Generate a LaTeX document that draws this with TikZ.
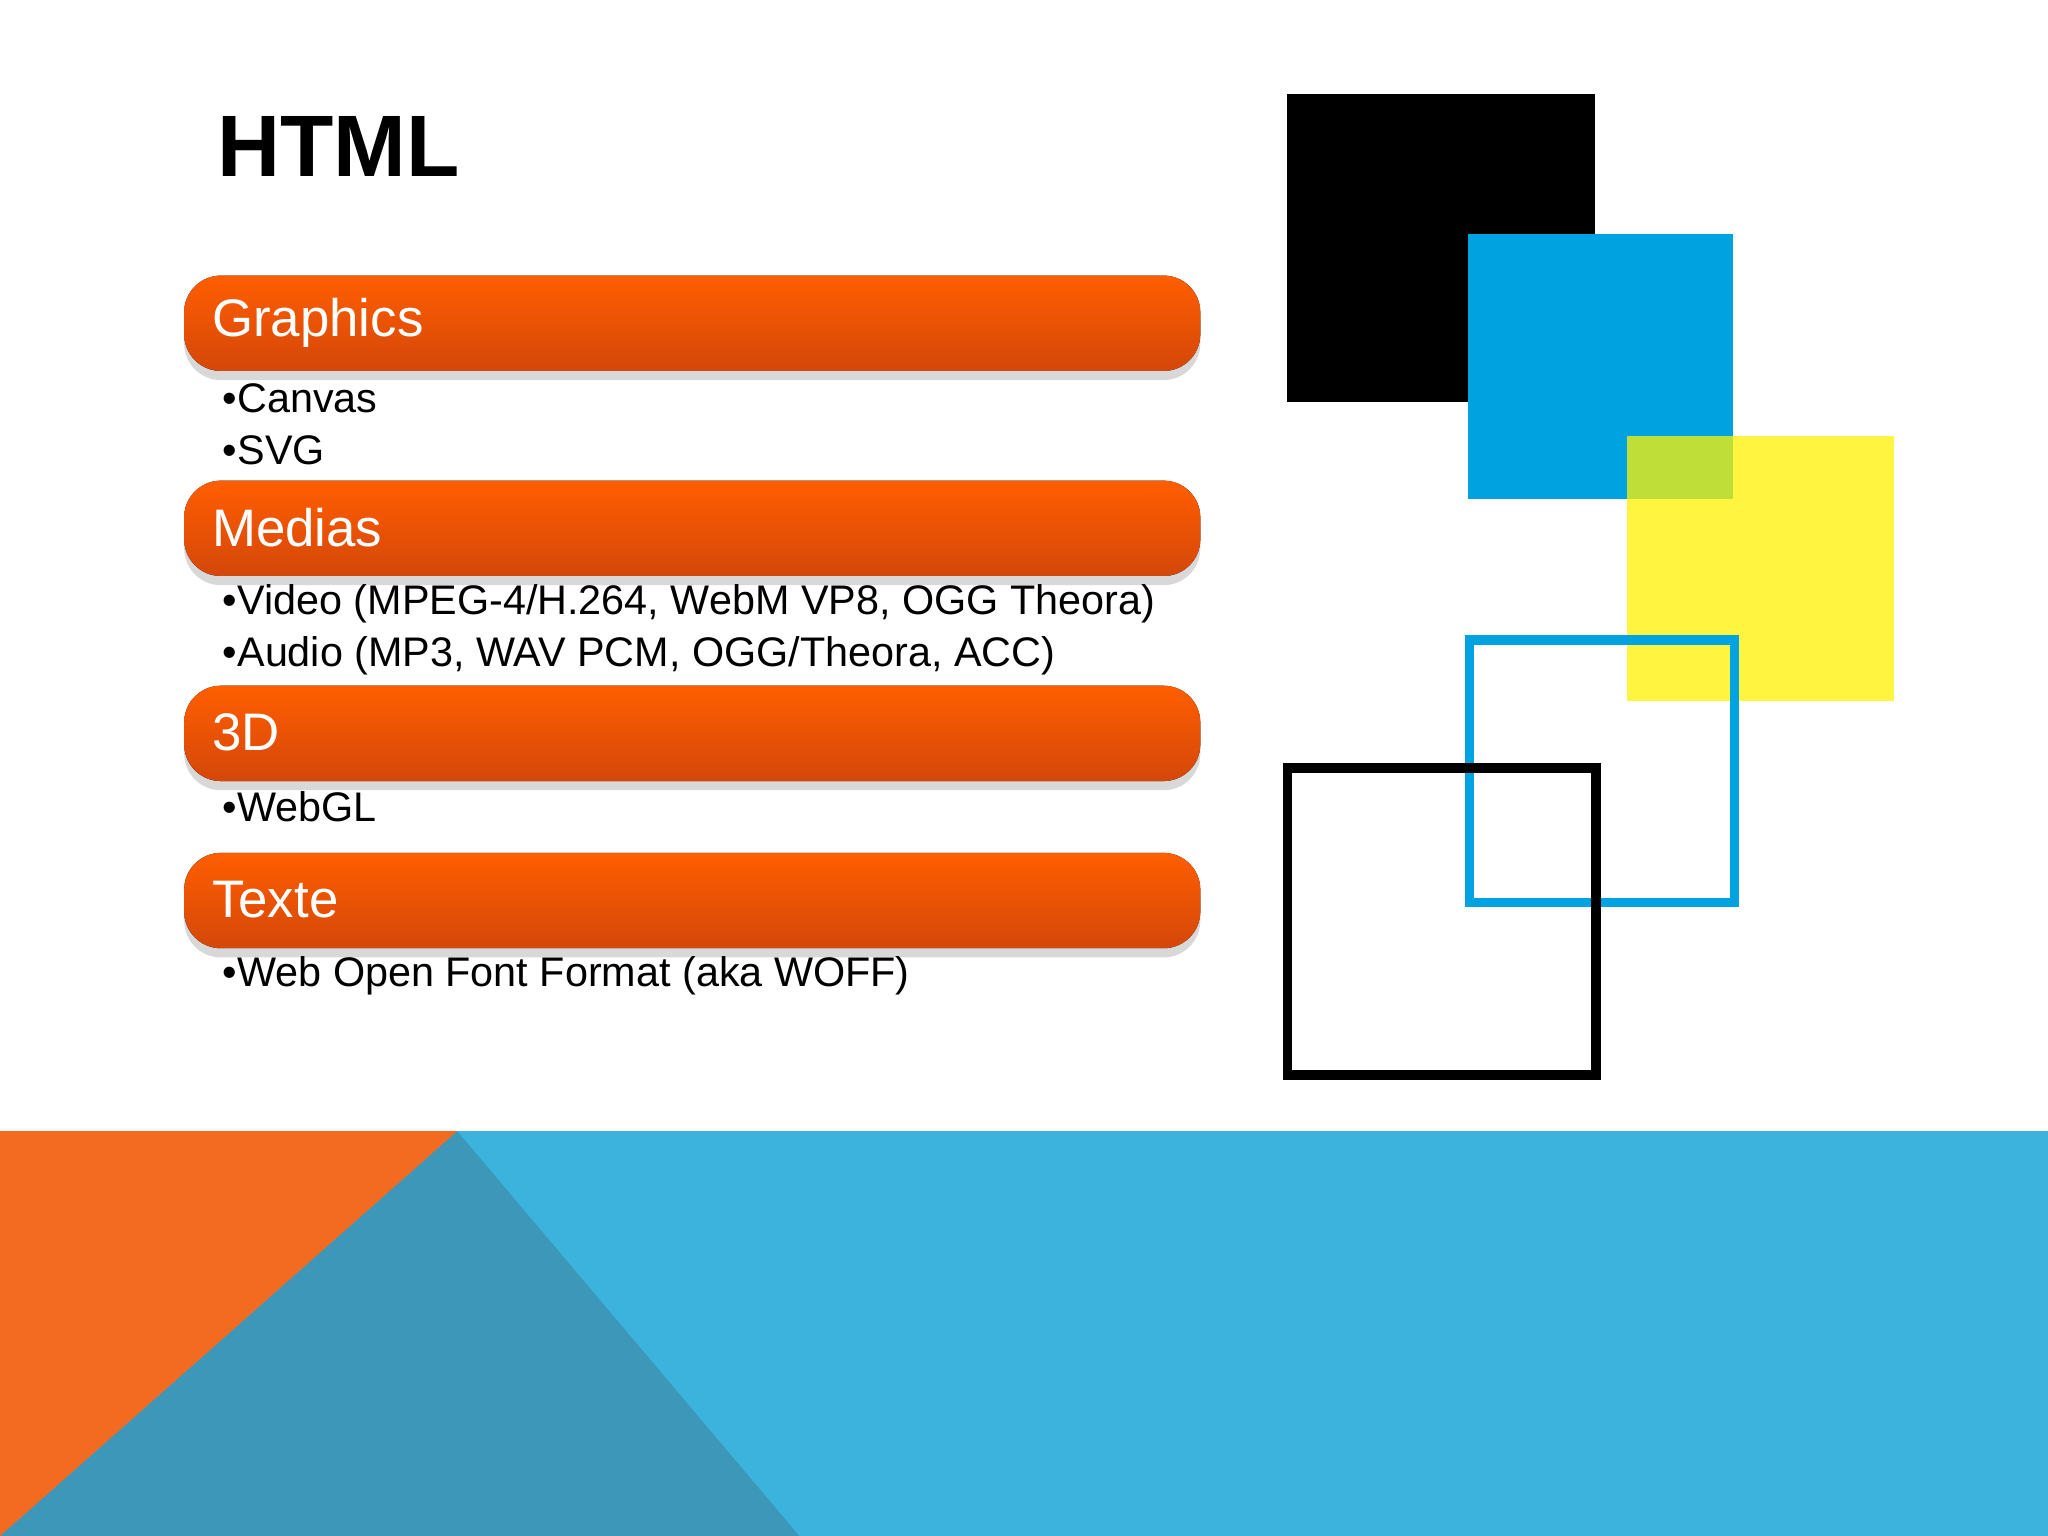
\documentclass[tikz,border=0pt]{standalone}
\usepackage{fontspec}
\setmainfont{Liberation Sans}
\usetikzlibrary{positioning,shadows}
\definecolor{barTop}{HTML}{FF5E00}
\definecolor{barBot}{HTML}{D4470A}
\definecolor{sqBlue}{HTML}{00A3E0}
\definecolor{bandBlue}{HTML}{3BB3DD}
\definecolor{bandOrange}{HTML}{F26B21}
\definecolor{bandTeal}{HTML}{3D97B8}
\tikzset{
	bar/.style={rounded corners=8pt,top color=barTop,bottom color=barBot,
		draw=none,drop shadow={opacity=0.3,shadow xshift=0pt,shadow yshift=-2pt}},
	bartext/.style={anchor=west,text=white,font=\fontsize{11.5}{13}\selectfont},
	item/.style={anchor=west,font=\fontsize{9}{11}\selectfont,inner sep=0pt}
}
\begin{document}
\begin{tikzpicture}[x=0.01cm,y=-0.01cm]
	\useasboundingbox (0,0) rectangle (1568,1176);
	\fill[white] (0,0) rectangle (1568,1176);
	% bottom band
	\fill[bandBlue] (0,866) rectangle (1568,1176);
	\fill[bandTeal] (350,866) -- (612,1176) -- (0,1176) -- cycle;
	\fill[bandOrange] (0,866) -- (350,866) -- (0,1176) -- cycle;
	% title
	\node[anchor=west,font=\fontsize{19}{22}\selectfont\bfseries] (title) at (154,112) {HTML};
	% bars
	\foreach \name/\y/\txt in {graphics/211/Graphics,medias/368/Medias,threed/525/3D,texte/653/Texte} {
		\fill[bar] (141,\y) rectangle (919,\y+73);
		\node[bartext] (\name) at (150,\y+36) {\txt};
	}
	% items
	\foreach \y/\txt in {305/Canvas,345/SVG,462/{Video (MPEG-4/H.264, WebM VP8, OGG Theora)},
		502/{Audio (MP3, WAV PCM, OGG/Theora, ACC)},618/WebGL,747/{Web Open Font Format (aka WOFF)}}
		\node[item] at (170,\y) {\textbullet\txt};
	% squares
	\fill[black] (985,72) rectangle (1221,308);
	\fill[sqBlue] (1124,179) rectangle (1327,382);
	\fill[yellow,fill opacity=0.75] (1246,334) rectangle (1450,537);
	\draw[sqBlue,line width=2pt] (1125,490) rectangle (1328,691);
	\draw[black,line width=2pt] (986,588) rectangle (1222,823);
\end{tikzpicture}
\end{document}
